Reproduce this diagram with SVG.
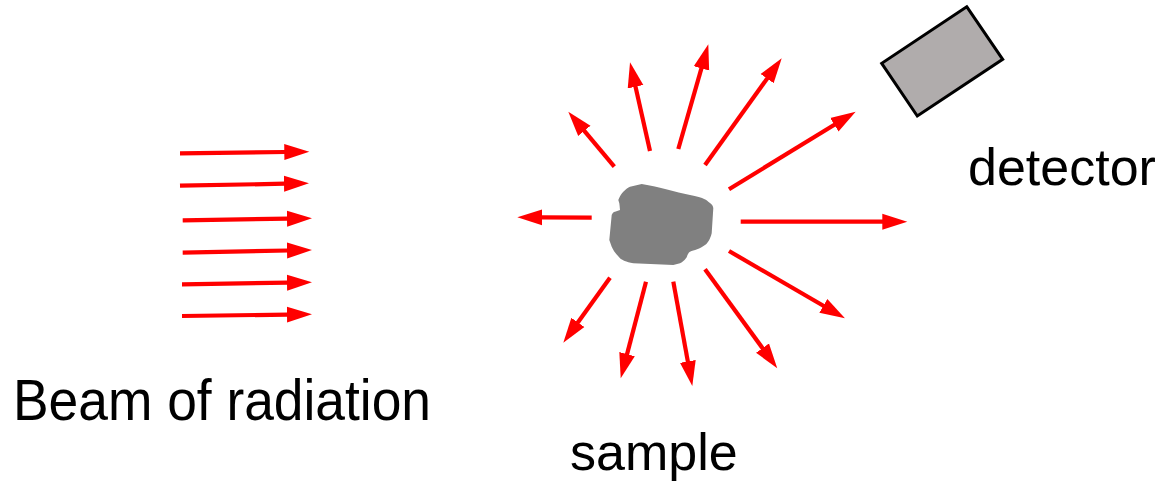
<svg xmlns="http://www.w3.org/2000/svg" width="1163" height="482" viewBox="0 0 1163 482">
  <style>
    .arr { stroke: #ff0000; stroke-width: 4.2; fill: none; marker-end: url(#head); }
    .lbl { font-family: "Liberation Sans", Arial, sans-serif; fill: #000000; }
  </style>
  <defs>
    <marker id="head" markerUnits="userSpaceOnUse" markerWidth="30" markerHeight="20" viewBox="0 -10 30 20" refX="1" refY="0" orient="auto">
      <path d="M0,-8 L25,0 L0,8 Z" fill="#ff0000"/>
    </marker>
  </defs>
  <rect width="1163" height="482" fill="#ffffff"/>

  <g id="beam">
    <text class="lbl" x="13" y="420" font-size="58" textLength="418" lengthAdjust="spacingAndGlyphs">Beam of radiation</text>
  </g>

  <g id="sample">
    <path d="M641.7,184 C660,187 675,192 690,195 C700,197 706,199 708.3,201.7 C712,204 713.3,206 713.3,208.3 L711.7,233.3 C710,240 707,244 705,245 C700,249 694,250 690,251.7 C688,253 687.5,255 686.7,257.3 C684,261 682,262.5 680,263.3 L673.3,265 L633.3,263.3 C626,262 622,260 620,258.3 C616,254 613,250 611.7,246.7 L609.3,240 L611.7,215 C612.5,213 613.5,212 615,211.7 L620,210 C619.8,207 619.5,205 619.3,203.3 L618.3,200 C620,196 621.5,193.5 623.3,191.7 C626,189 628,187.5 630,186.7 Z" fill="#808080"/>
    <text class="lbl" x="570" y="470" font-size="52">sample</text>
  </g>

  <g id="detector">
    <polygon points="966.7,6.7 1002.7,59.3 917.3,116 881.7,63.3" fill="#b0acac" stroke="#000000" stroke-width="3" stroke-linejoin="miter"/>
    <text class="lbl" x="968" y="185" font-size="52">detector</text>
  </g>

  <g id="connectors">
    <line class="arr" x1="180" y1="153.3" x2="285.3" y2="152"/>
    <line class="arr" x1="180" y1="185.7" x2="285" y2="183.7"/>
    <line class="arr" x1="182.7" y1="220.3" x2="288" y2="218.7"/>
    <line class="arr" x1="182.7" y1="252.7" x2="288" y2="250.5"/>
    <line class="arr" x1="182" y1="284.3" x2="288" y2="282.7"/>
    <line class="arr" x1="182" y1="316" x2="288" y2="314.6"/>

    <line class="arr" x1="614.3" y1="166.7" x2="583.7" y2="130.1"/>
    <line class="arr" x1="650" y1="151" x2="635.3" y2="85.7"/>
    <line class="arr" x1="678.3" y1="149" x2="701.7" y2="67.4"/>
    <line class="arr" x1="705" y1="165" x2="767.7" y2="77.8"/>
    <line class="arr" x1="729" y1="189.3" x2="835.2" y2="124.2"/>
    <line class="arr" x1="591.7" y1="217.6" x2="541.3" y2="217.4"/>
    <line class="arr" x1="740.7" y1="221.7" x2="883.3" y2="221.7"/>
    <line class="arr" x1="729" y1="251" x2="824.2" y2="306.3"/>
    <line class="arr" x1="705" y1="269.3" x2="763.1" y2="348.9"/>
    <line class="arr" x1="673.3" y1="281.7" x2="688" y2="362.4"/>
    <line class="arr" x1="646" y1="281.7" x2="626.8" y2="355.1"/>
    <line class="arr" x1="610" y1="277.7" x2="577.3" y2="323.2"/>
  </g>
</svg>
